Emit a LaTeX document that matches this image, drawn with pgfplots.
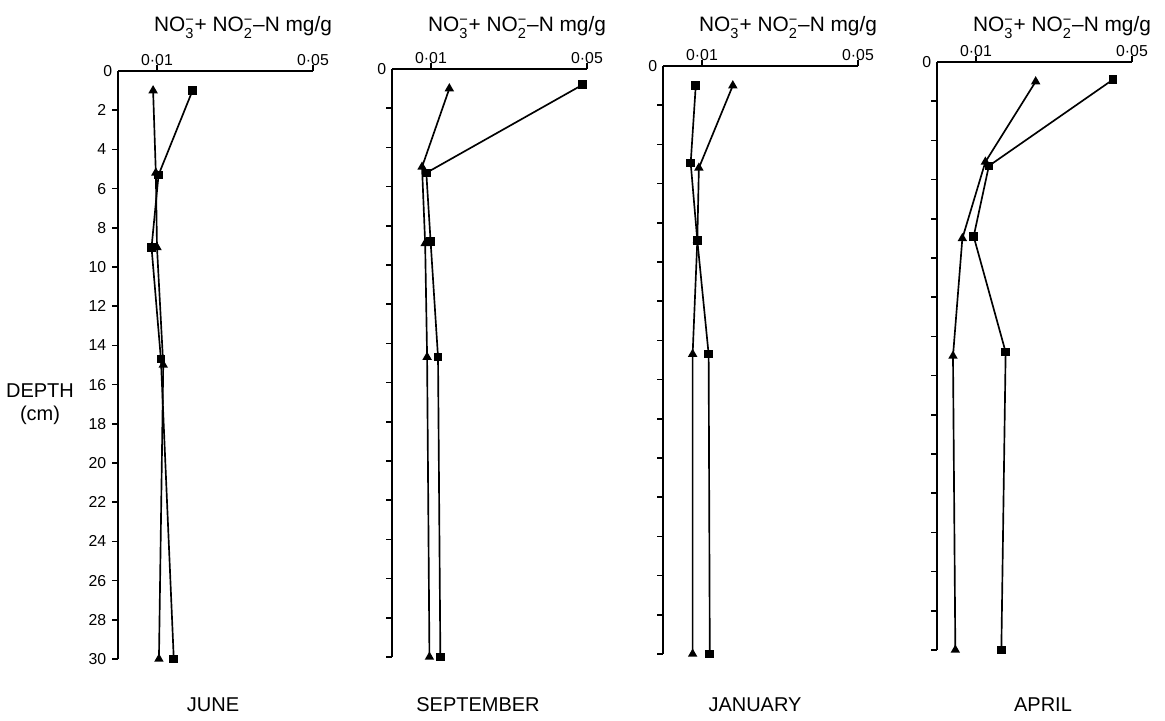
\documentclass[border=0pt]{standalone}
\usepackage{amsmath}
\usepackage{pgfplots}
\pgfplotsset{compat=1.18}
\usepackage{fontspec}
\setmainfont{Liberation Sans}
\newcommand\ion[1]{\ensuremath{^{\text{−}}_{\text{#1}}}}
\pgfplotstableread{
x y
0.0090 1
0.0097 5.2
0.0100 9.0
0.0116 15.0
0.0105 30
}\juntri
\pgfplotstableread{
x y
0.0191 1
0.0104 5.3
0.0086 9.0
0.0110 14.7
0.0143 30
}\junsq
\pgfplotstableread{
x y
0.0147 1
0.0077 5.0
0.0085 8.9
0.0090 14.7
0.0096 30
}\septri
\pgfplotstableread{
x y
0.0489 0.8
0.0088 5.3
0.0099 8.8
0.0118 14.7
0.0124 30
}\sepsq
\pgfplotstableread{
x y
0.0179 1
0.0092 5.2
0.0088 8.9
0.0076 14.7
0.0076 30
}\jantri
\pgfplotstableread{
x y
0.0084 1
0.0071 4.95
0.0088 8.9
0.0117 14.7
0.0120 30
}\jansq
\pgfplotstableread{
x y
0.0253 1
0.0124 5.1
0.0065 9.0
0.0041 15.0
0.0047 30
}\aprtri
\pgfplotstableread{
x y
0.0451 0.9
0.0133 5.3
0.0094 8.9
0.0176 14.8
0.0165 30
}\aprsq
\pgfplotsset{
 panel/.style={
  scale only axis, width=117pt, height=352.8pt,
  anchor=north west,
  xmin=0, xmax=0.05, ymin=0, ymax=30, y dir=reverse,
  axis x line*=top, axis y line*=left,
  axis line style={line width=1.1pt, -},
  tick align=outside, major tick length=3.5pt,
  tick style={line width=1pt, black},
  scaled x ticks=false,
  xtick={0.01,0.05}, xticklabels={0·01,0·05},
  xticklabel style={yshift=-4pt},
  ytick={2,4,...,30},
  extra y ticks={0}, extra y tick style={major tick length=0pt},
  extra y tick labels={0},
  ticklabel style={font=\fontsize{9.5}{10}\selectfont},
  clip=false,
 },
 tri/.style={black, line width=1pt, mark=triangle*, mark size=2.3pt, mark options={solid}},
 sq/.style={black, line width=1pt, mark=square*, mark size=2.1pt, mark options={solid}},
}
\begin{document}
\begin{tikzpicture}
\path[use as bounding box] (0pt,0pt) rectangle (699pt,432.6pt);
\begin{axis}[panel, at={(70.8pt,390pt)},
  yticklabels={2,4,6,8,10,12,14,16,18,20,22,24,26,28,30}]
\addplot[tri] table {\juntri};
\addplot[sq] table {\junsq};
\end{axis}
\begin{axis}[panel, at={(235.2pt,391.2pt)}, yticklabels={}]
\addplot[tri] table {\septri};
\addplot[sq] table {\sepsq};
\end{axis}
\begin{axis}[panel, at={(397.8pt,393pt)}, yticklabels={}]
\addplot[tri] table {\jantri};
\addplot[sq] table {\jansq};
\end{axis}
\begin{axis}[panel, at={(562.2pt,395.4pt)}, yticklabels={}]
\addplot[tri] table {\aprtri};
\addplot[sq] table {\aprsq};
\end{axis}
\foreach \cx in {145.8,310.2,472.8,637.2}{
  \node[anchor=base, font=\fontsize{12.5}{14}\selectfont, inner sep=0pt] at (\cx pt,413.4pt) {NO\ion{3}+ NO\ion{2}–N mg/g};
}
\node[font=\fontsize{12}{14}\selectfont] at (127.8pt,9.6pt) {JUNE};
\node[font=\fontsize{12}{14}\selectfont] at (286.8pt,9.6pt) {SEPTEMBER};
\node[font=\fontsize{12}{14}\selectfont] at (453pt,9.6pt) {JANUARY};
\node[font=\fontsize{12}{14}\selectfont] at (625.8pt,9.6pt) {APRIL};
\node[font=\fontsize{12}{14}\selectfont, align=center] at (24pt,190pt) {DEPTH\\(cm)};
\end{tikzpicture}
\end{document}
